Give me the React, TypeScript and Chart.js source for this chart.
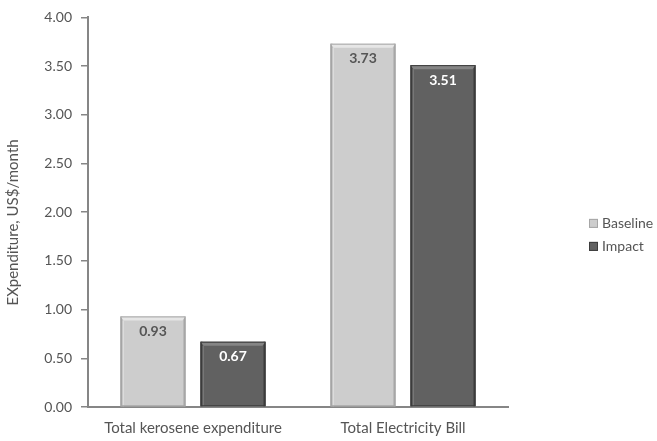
import { useEffect, useRef } from "react";
import { Chart, registerables } from "chart.js";

Chart.register(...registerables);

// ---- data ----
const categories = ["Total kerosene expenditure", "Total Electricity Bill"];
const seriesNames = ["Baseline", "Impact"];
const baselineValues = [0.93, 3.73];
const impactValues = [0.67, 3.51];
const yMin = 0;
const yMax = 4;
const yStep = 0.5;
const axisTitle = "EXpenditure, US$/month";

// ---- styling ----
const FONT = "Lato, 'Open Sans', sans-serif";
const TEXT = "#555555";
const AXIS = "#868686";
const fills = ["#cdcdcd", "#616161"];
const edges = ["#a6a6a6", "#3c3c3c"];
const lights = ["#e6e6e6", "#858585"];
const valueColors = ["#555555", "#ffffff"];

// Gives each bar a bevelled, slightly raised look
const bevelPlugin = {
  id: "bevel",
  afterDatasetsDraw(chart: Chart) {
    const ctx = chart.ctx;
    chart.data.datasets.forEach((_, di) => {
      const meta = chart.getDatasetMeta(di);
      meta.data.forEach((el: any) => {
        const { x, y, base, width } = el.getProps(["x", "y", "base", "width"], true);
        const l = x - width / 2;
        const r = x + width / 2;
        const t = y;
        const b = base;
        ctx.save();
        // side shading
        ctx.fillStyle = edges[di];
        ctx.fillRect(l, t, 2, b - t);
        ctx.fillRect(r - 2, t, 2, b - t);
        ctx.fillStyle = lights[di];
        ctx.globalAlpha = 0.6;
        ctx.fillRect(l + 2, t + 4, 1.5, b - t - 4);
        ctx.globalAlpha = 1;
        // top bevel
        ctx.beginPath();
        ctx.moveTo(l, t);
        ctx.lineTo(r, t);
        ctx.lineTo(r - 3, t + 4);
        ctx.lineTo(l + 3, t + 4);
        ctx.closePath();
        ctx.fillStyle = lights[di];
        ctx.fill();
        ctx.strokeStyle = edges[di];
        ctx.lineWidth = 1;
        ctx.strokeRect(l + 0.5, t + 0.5, width - 1, b - t - 1);
        ctx.restore();
      });
    });
  },
};

// Value labels just inside the top of each bar
const valuePlugin = {
  id: "values",
  afterDatasetsDraw(chart: Chart) {
    const ctx = chart.ctx;
    chart.data.datasets.forEach((ds, di) => {
      const meta = chart.getDatasetMeta(di);
      meta.data.forEach((el: any, i: number) => {
        const v = ds.data[i] as number;
        ctx.save();
        ctx.font = `bold 14px ${FONT}`;
        ctx.fillStyle = valueColors[di];
        ctx.textAlign = "center";
        ctx.textBaseline = "middle";
        ctx.fillText(v.toFixed(2), el.x, el.y + 15);
        ctx.restore();
      });
    });
  },
};

// Legend to the right of the plot, and the rotated y-axis title
const sidePlugin = {
  id: "side",
  afterDraw(chart: Chart) {
    const ctx = chart.ctx;
    const area = chart.chartArea;
    const bx = area.right + 81;
    chart.data.datasets.forEach((ds, di) => {
      const cy = area.top + 206 + di * 23;
      ctx.save();
      ctx.fillStyle = fills[di];
      ctx.fillRect(bx, cy - 4.5, 9, 9);
      ctx.strokeStyle = edges[di];
      ctx.lineWidth = 1;
      ctx.strokeRect(bx + 0.5, cy - 4, 8, 8);
      ctx.font = `14px ${FONT}`;
      ctx.fillStyle = TEXT;
      ctx.textAlign = "left";
      ctx.textBaseline = "middle";
      ctx.fillText(String(ds.label), bx + 13, cy);
      ctx.restore();
    });
    ctx.save();
    ctx.translate(13, area.top + 205);
    ctx.rotate(-Math.PI / 2);
    ctx.font = `15px ${FONT}`;
    ctx.fillStyle = TEXT;
    ctx.textAlign = "center";
    ctx.textBaseline = "middle";
    ctx.fillText(axisTitle, 0, 0);
    ctx.restore();
  },
};

export default function App() {
  const ref = useRef<HTMLCanvasElement | null>(null);

  useEffect(() => {
    if (!ref.current) return;
    const chart = new Chart(ref.current, {
      type: "bar",
      data: {
        labels: categories,
        datasets: [
          {
            label: seriesNames[0],
            data: baselineValues,
            backgroundColor: fills[0],
            categoryPercentage: 0.762,
            barPercentage: 0.8125,
          },
          {
            label: seriesNames[1],
            data: impactValues,
            backgroundColor: fills[1],
            categoryPercentage: 0.762,
            barPercentage: 0.8125,
          },
        ],
      },
      options: {
        responsive: false,
        animation: false,
        layout: { padding: { top: 17, right: 149, left: 0, bottom: 0 } },
        plugins: {
          legend: { display: false },
          tooltip: { enabled: false },
        },
        scales: {
          x: {
            grid: { display: true, drawOnChartArea: false, drawTicks: false, color: "rgba(0,0,0,0)" },
            border: { display: true, color: AXIS, width: 2 },
            ticks: { color: TEXT, font: { family: FONT, size: 15 }, padding: 12, maxRotation: 0 },
            afterFit(scale: any) {
              scale.height = 34;
            },
          },
          y: {
            min: yMin,
            max: yMax,
            grid: { drawOnChartArea: false, drawTicks: true, tickLength: 7, color: AXIS, lineWidth: 1.5 },
            border: { display: true, color: AXIS, width: 2 },
            ticks: {
              stepSize: yStep,
              color: TEXT,
              font: { family: FONT, size: 14 },
              padding: 9,
              callback: (v: any) => Number(v).toFixed(2),
            },
            afterFit(scale: any) {
              scale.width = 88;
            },
          },
        },
      },
      plugins: [bevelPlugin, valuePlugin, sidePlugin],
    });
    return () => chart.destroy();
  }, []);

  return (
    <div style={{ position: "absolute", left: 0, top: 0, width: 657, height: 441, background: "#ffffff" }}>
      <canvas ref={ref} width={657} height={441} />
    </div>
  );
}
